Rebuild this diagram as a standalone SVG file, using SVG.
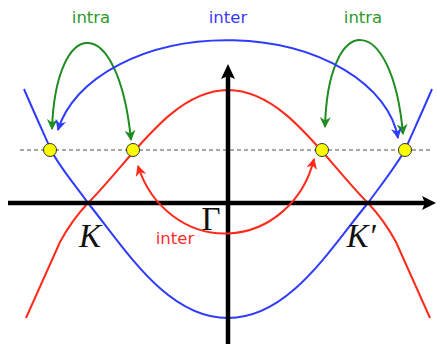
<svg xmlns="http://www.w3.org/2000/svg" width="437" height="344" viewBox="0 0 437 344">
<style>
.band{fill:none;stroke-width:2}
.blue{stroke:#2f3cff}
.red{stroke:#ff2a1a}
.grn{stroke:#1e8c1e}
.arc{fill:none;stroke-width:2}
.lbl{font-family:"DejaVu Sans",Verdana,sans-serif;font-size:16.5px;text-anchor:middle}
.math{font-family:"Liberation Serif","Times New Roman",serif;font-size:33px;text-anchor:middle;fill:#111}
.dot{fill:#ffff00;stroke:#333;stroke-width:1}
</style>
<defs>
<marker id="mg" viewBox="0 0 10 10" refX="9" refY="5" markerWidth="11" markerHeight="11" markerUnits="userSpaceOnUse" orient="auto-start-reverse"><path d="M0,0 L10,5 L0,10 L3,5 Z" fill="#1e8c1e"/></marker>
<marker id="mb" viewBox="0 0 10 10" refX="9" refY="5" markerWidth="11" markerHeight="11" markerUnits="userSpaceOnUse" orient="auto-start-reverse"><path d="M0,0 L10,5 L0,10 L3,5 Z" fill="#2f3cff"/></marker>
<marker id="mr" viewBox="0 0 10 10" refX="9" refY="5" markerWidth="11" markerHeight="11" markerUnits="userSpaceOnUse" orient="auto-start-reverse"><path d="M0,0 L10,5 L0,10 L3,5 Z" fill="#ff2a1a"/></marker>
</defs>
<rect width="437" height="344" fill="#fff"/>
<g id="bands">
<path id="band-blue" class="band blue" d="M24,89 C32,108 44,134 51,150 C59,166 72,181 88,203 C126,250 167,318 228,318 C289,318 329,250 368,203 C384,181 396,166 405,150 C412,134 424,108 432,89"/>
<path id="band-red" class="band red" d="M26,318 L60,242 Q72,220 88,203 C131,160 172,90 228,90 C284,90 325,160 368,203 Q384,220 396,242 L430,318"/>
</g>
<line id="fermi" x1="20" y1="150" x2="431" y2="150" stroke="#8a8a8a" stroke-width="1.5" stroke-dasharray="4 3"/>
<g id="axes">
<line x1="8" y1="203" x2="426" y2="203" stroke="#000" stroke-width="4.5"/>
<polygon points="436,203 422,196 425,203 422,210" fill="#000"/>
<line x1="228" y1="344" x2="228" y2="76" stroke="#000" stroke-width="4.5"/>
<polygon points="228,64 221,79 228,76 235,79" fill="#000"/>
</g>
<g id="connectors">
<path class="arc grn" d="M52,129 C56,15 118,10 131,140" marker-start="url(#mg)" marker-end="url(#mg)"/>
<path class="arc grn" d="M325,127 C328,10 392,10 403,134" marker-start="url(#mg)" marker-end="url(#mg)"/>
<path class="arc blue" d="M58,130 A172 110 0 0 1 398,138" marker-start="url(#mb)" marker-end="url(#mb)"/>
<path class="arc red" d="M138,166 A92 100 0 0 0 314,159" marker-start="url(#mr)" marker-end="url(#mr)"/>
</g>
<g id="dots">
<circle id="dot1" class="dot" cx="50" cy="150" r="6.5"/>
<circle id="dot2" class="dot" cx="133" cy="150" r="6.5"/>
<circle id="dot3" class="dot" cx="322" cy="150" r="6.5"/>
<circle id="dot4" class="dot" cx="405" cy="150" r="6.5"/>
</g>
<g id="labels">
<text class="lbl" x="91" y="23" fill="#2a9a2a">intra</text>
<text class="lbl" x="363" y="23" fill="#2a9a2a">intra</text>
<text class="lbl" x="228" y="23" fill="#3a3aff">inter</text>
<text class="lbl" x="175" y="244" fill="#ff2a2a">inter</text>
<text class="math" x="211" y="230" font-size="31">Γ</text>
<text class="math" x="90" y="247" font-style="italic">K</text>
<text class="math" x="361" y="247" font-style="italic">K′</text>
</g>
</svg>
